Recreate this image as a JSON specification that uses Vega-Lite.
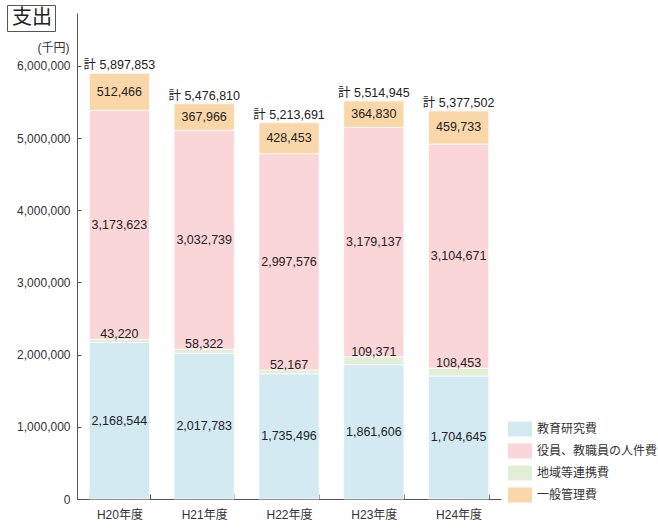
{
  "$schema": "https://vega.github.io/schema/vega-lite/v6.json",
  "autosize": {"type": "none"},
  "padding": {"left": 77, "top": 13, "right": 157, "bottom": 31},
  "width": 424,
  "height": 486,
  "background": "white",
  "config": {
    "font": "Liberation Sans, Noto Sans CJK JP",
    "view": {"stroke": null},
    "text": {"font": "Liberation Sans, Noto Sans CJK JP"},
    "axisX": {
      "labelAngle": 0,
      "labelFontSize": 12,
      "labelColor": "#333",
      "domainColor": "#555",
      "tickColor": "#555",
      "tickBand": "extent",
      "tickSize": -5,
      "labelPadding": 15
    },
    "axisY": {
      "titleAngle": 0,
      "titleAlign": "right",
      "titleBaseline": "middle",
      "titleX": -8,
      "titleY": 34,
      "titleFontSize": 12,
      "titleFontWeight": "normal",
      "titleColor": "#333",
      "labelFontSize": 12,
      "labelColor": "#333",
      "tickSize": -4,
      "labelPadding": 11,
      "grid": false,
      "domainColor": "#555",
      "tickColor": "#555"
    }
  },
  "datasets": {
    "spend": [
      {"year": "H20年度", "cat": "教育研究費", "ord": 1, "value": 2168544},
      {"year": "H20年度", "cat": "地域等連携費", "ord": 2, "value": 43220},
      {"year": "H20年度", "cat": "役員、教職員の人件費", "ord": 3, "value": 3173623},
      {"year": "H20年度", "cat": "一般管理費", "ord": 4, "value": 512466},
      {"year": "H21年度", "cat": "教育研究費", "ord": 1, "value": 2017783},
      {"year": "H21年度", "cat": "地域等連携費", "ord": 2, "value": 58322},
      {"year": "H21年度", "cat": "役員、教職員の人件費", "ord": 3, "value": 3032739},
      {"year": "H21年度", "cat": "一般管理費", "ord": 4, "value": 367966},
      {"year": "H22年度", "cat": "教育研究費", "ord": 1, "value": 1735496},
      {"year": "H22年度", "cat": "地域等連携費", "ord": 2, "value": 52167},
      {"year": "H22年度", "cat": "役員、教職員の人件費", "ord": 3, "value": 2997576},
      {"year": "H22年度", "cat": "一般管理費", "ord": 4, "value": 428453},
      {"year": "H23年度", "cat": "教育研究費", "ord": 1, "value": 1861606},
      {"year": "H23年度", "cat": "地域等連携費", "ord": 2, "value": 109371},
      {"year": "H23年度", "cat": "役員、教職員の人件費", "ord": 3, "value": 3179137},
      {"year": "H23年度", "cat": "一般管理費", "ord": 4, "value": 364830},
      {"year": "H24年度", "cat": "教育研究費", "ord": 1, "value": 1704645},
      {"year": "H24年度", "cat": "地域等連携費", "ord": 2, "value": 108453},
      {"year": "H24年度", "cat": "役員、教職員の人件費", "ord": 3, "value": 3104671},
      {"year": "H24年度", "cat": "一般管理費", "ord": 4, "value": 459733}
    ],
    "totals": [
      {"year": "H20年度", "total": 5897853},
      {"year": "H21年度", "total": 5476810},
      {"year": "H22年度", "total": 5213691},
      {"year": "H23年度", "total": 5514945},
      {"year": "H24年度", "total": 5377502}
    ]
  },
  "encoding": {
    "x": {
      "field": "year",
      "type": "nominal",
      "sort": null,
      "title": null,
      "scale": {"paddingInner": 0.29, "paddingOuter": 0.145}
    }
  },
  "layer": [
    {
      "data": {"name": "spend"},
      "mark": {"type": "bar", "stroke": "white", "strokeWidth": 0.7},
      "encoding": {
        "y": {
          "field": "value",
          "type": "quantitative",
          "stack": "zero",
          "title": "(千円)",
          "scale": {"domain": [0, 6734000], "nice": false, "zero": true},
          "axis": {"values": [0, 1000000, 2000000, 3000000, 4000000, 5000000, 6000000], "labelExpr": "format(datum.value, ',')"}
        },
        "color": {
          "field": "cat",
          "type": "nominal",
          "scale": {
            "domain": ["教育研究費", "役員、教職員の人件費", "地域等連携費", "一般管理費"],
            "range": ["#d3eaf2", "#fad6d8", "#e2efd6", "#fad7a8"]
          },
          "legend": {
            "orient": "none",
            "legendX": 431,
            "legendY": 404,
            "title": null,
            "symbolType": "M-1,-0.625H1V0.625H-1Z",
            "symbolSize": 576,
            "symbolStrokeWidth": 0,
            "symbolOpacity": 1,
            "labelFontSize": 12,
            "labelColor": "#333",
            "labelOffset": 5,
            "rowPadding": 2
          }
        },
        "order": {"field": "ord", "type": "quantitative"}
      }
    },
    {
      "data": {"name": "spend"},
      "mark": {"type": "text", "fontSize": 12.5, "color": "#222", "baseline": "middle"},
      "encoding": {
        "y": {
          "field": "value",
          "type": "quantitative",
          "stack": "zero",
          "bandPosition": 0.5,
          "title": "(千円)",
          "axis": {"values": [0, 1000000, 2000000, 3000000, 4000000, 5000000, 6000000], "labelExpr": "format(datum.value, ',')"}
        },
        "detail": {"field": "cat"},
        "order": {"field": "ord", "type": "quantitative"},
        "text": {"field": "value", "type": "quantitative", "format": ","},
        "opacity": {"condition": {"test": "datum.cat === '地域等連携費'", "value": 0}, "value": 1}
      }
    },
    {
      "data": {"name": "spend"},
      "mark": {"type": "text", "fontSize": 12.5, "color": "#222", "baseline": "alphabetic", "dy": -1},
      "encoding": {
        "y": {
          "field": "value",
          "type": "quantitative",
          "stack": "zero",
          "title": "(千円)",
          "axis": {"values": [0, 1000000, 2000000, 3000000, 4000000, 5000000, 6000000], "labelExpr": "format(datum.value, ',')"}
        },
        "detail": {"field": "cat"},
        "order": {"field": "ord", "type": "quantitative"},
        "text": {"field": "value", "type": "quantitative", "format": ","},
        "opacity": {"condition": {"test": "datum.cat === '地域等連携費'", "value": 1}, "value": 0}
      }
    },
    {
      "data": {"name": "totals"},
      "mark": {
        "type": "text",
        "fontSize": 12.5,
        "color": "#222",
        "baseline": "bottom",
        "dy": -1,
        "text": {"expr": "'計 ' + format(datum.total, ',')"}
      },
      "encoding": {
        "y": {
          "field": "total",
          "type": "quantitative",
          "title": "(千円)",
          "axis": {"values": [0, 1000000, 2000000, 3000000, 4000000, 5000000, 6000000], "labelExpr": "format(datum.value, ',')"}
        },
        "opacity": {
          "datum": "支出",
          "type": "nominal",
          "scale": {"range": [1, 1]},
          "legend": {
            "orient": "none",
            "legendX": -70,
            "legendY": -8,
            "title": null,
            "symbolSize": 0,
            "symbolOpacity": 0,
            "symbolStrokeWidth": 0,
            "labelOffset": -18,
            "labelFontSize": 20,
            "labelColor": "#222",
            "labelFont": "Noto Sans CJK JP",
            "strokeColor": "#555",
            "padding": 3
          }
        }
      }
    }
  ]
}
